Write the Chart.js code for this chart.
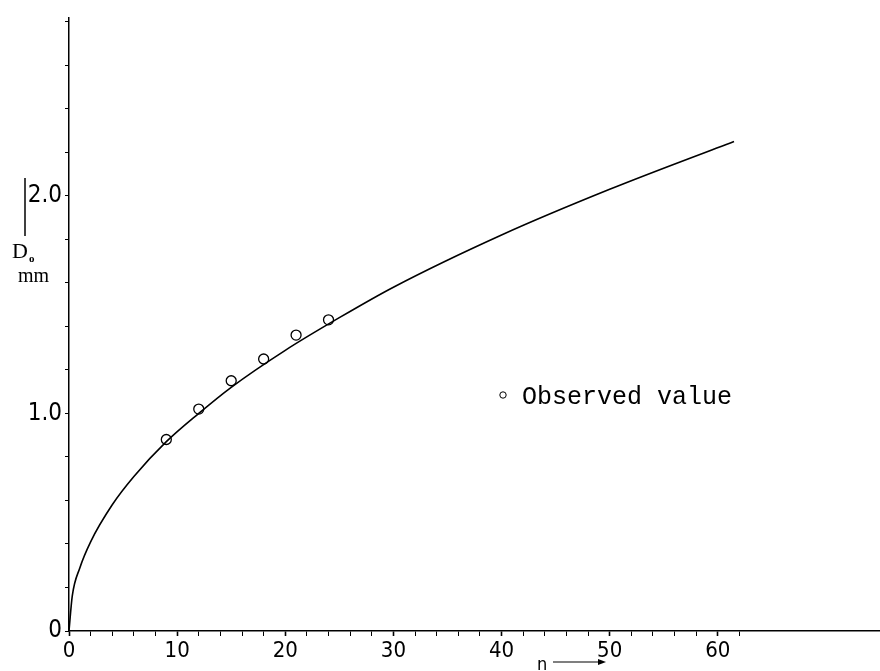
<!DOCTYPE html>
<html>
<head>
<meta charset="utf-8">
<script src="https://cdn.jsdelivr.net/npm/chart.js@4"></script>
<style>
  html, body { margin: 0; padding: 0; background: #fff; }
  canvas { display: block; }
</style>
</head>
<body>
<canvas id="chart" width="880" height="671"></canvas>
<script>
// fitted curve
const curveN = [0, 0.3, 1, 2, 4, 6, 9, 12, 15, 20, 25, 30, 40, 50, 61.5];
const curveD = [0, 0.16, 0.29, 0.41, 0.58, 0.71, 0.87, 1.0, 1.12, 1.29, 1.44, 1.58, 1.82, 2.03, 2.25];

// observed values
const obsN = [9, 12, 15, 18, 21, 24];
const obsD = [0.88, 1.02, 1.15, 1.25, 1.36, 1.43];

// axis ticks
const xTicks = [0, 2, 4, 6, 8, 10, 12, 14, 16, 18, 20, 22, 24, 26, 28, 30, 32, 34, 36, 38, 40,
                42, 44, 46, 48, 50, 52, 54, 56, 58, 60, 62];
const xLabels = [0, 10, 20, 30, 40, 50, 60];
const yTicks = [0, 0.2, 0.4, 0.6, 0.8, 1.0, 1.2, 1.4, 1.6, 1.8, 2.0, 2.2, 2.4, 2.6, 2.8];
const yLabels = { 0: '0', 1: '1.0', 2: '2.0' };

const tickFont = "'Liberation Sans Narrow', 'DejaVu Sans Condensed', sans-serif";

const annotations = {
    id: 'annotations',
    afterDraw(chart) {
        const ctx = chart.ctx;
        ctx.save();
        ctx.fillStyle = '#000';
        ctx.strokeStyle = '#000';

        // y axis title with the bar above it
        ctx.lineWidth = 1.5;
        ctx.beginPath();
        ctx.moveTo(25, 178);
        ctx.lineTo(25, 236);
        ctx.stroke();
        ctx.font = "22px 'Liberation Serif', serif";
        ctx.textBaseline = 'alphabetic';
        ctx.fillText('D', 12, 258);
        ctx.font = "bold 11px 'Liberation Serif', serif";
        ctx.fillText('o', 29, 262);
        ctx.font = "20px 'Liberation Serif', serif";
        ctx.fillText('mm', 18, 282);

        // x axis title with arrow
        ctx.font = "18px " + tickFont;
        ctx.fillText('n', 537, 670);
        ctx.lineWidth = 1.2;
        ctx.beginPath();
        ctx.moveTo(553, 662);
        ctx.lineTo(603, 662);
        ctx.stroke();
        ctx.beginPath();
        ctx.moveTo(606, 662);
        ctx.lineTo(598, 659);
        ctx.lineTo(598, 665);
        ctx.closePath();
        ctx.fill();

        // legend
        ctx.lineWidth = 1;
        ctx.beginPath();
        ctx.arc(503, 395, 3.2, 0, Math.PI * 2);
        ctx.stroke();
        ctx.font = "25px 'Liberation Mono', monospace";
        ctx.textBaseline = 'middle';
        ctx.fillText('Observed value', 522, 397);
        ctx.restore();
    }
};

new Chart(document.getElementById('chart'), {
    type: 'line',
    data: {
        datasets: [
            {
                label: 'Curve',
                data: curveN.map((n, i) => ({ x: n, y: curveD[i] })),
                borderColor: '#000',
                borderWidth: 1.6,
                pointRadius: 0,
                cubicInterpolationMode: 'monotone',
                fill: false
            },
            {
                label: 'Observed value',
                data: obsN.map((n, i) => ({ x: n, y: obsD[i] })),
                showLine: false,
                pointRadius: 5,
                pointBorderWidth: 1.3,
                pointBorderColor: '#000',
                pointBackgroundColor: '#fff'
            }
        ]
    },
    options: {
        responsive: false,
        animation: false,
        layout: { autoPadding: false, padding: { top: 13, right: 0, left: 0, bottom: 0 } },
        plugins: {
            legend: { display: false },
            tooltip: { enabled: false }
        },
        scales: {
            x: {
                type: 'linear',
                min: 0,
                max: 75,
                afterBuildTicks: scale => { scale.ticks = xTicks.map(v => ({ value: v })); },
                afterFit: scale => {
                    scale.height = 40;
                    scale.paddingRight = 0;
                },
                border: { color: '#000', width: 1.5 },
                grid: {
                    drawOnChartArea: false,
                    tickLength: 5,
                    tickColor: '#000',
                    tickWidth: c => (c.tick && c.tick.value % 10 === 0 ? 1.6 : 1)
                },
                ticks: {
                    autoSkip: false,
                    maxRotation: 0,
                    padding: 2,
                    color: '#000',
                    font: { family: tickFont, size: 22 },
                    callback: v => (xLabels.includes(v) ? String(v) : '')
                }
            },
            y: {
                min: 0,
                max: 2.82,
                afterBuildTicks: scale => { scale.ticks = yTicks.map(v => ({ value: v })); },
                afterFit: scale => { scale.width = 69; },
                border: { color: '#000', width: 1.5 },
                grid: {
                    drawOnChartArea: false,
                    tickLength: 4,
                    tickColor: '#000',
                    tickWidth: 1
                },
                ticks: {
                    autoSkip: false,
                    padding: 3,
                    color: '#000',
                    font: { family: tickFont, size: 24 },
                    callback: v => yLabels[Math.round(v * 10) / 10] || ''
                }
            }
        }
    },
    plugins: [annotations]
});
</script>
</body>
</html>
